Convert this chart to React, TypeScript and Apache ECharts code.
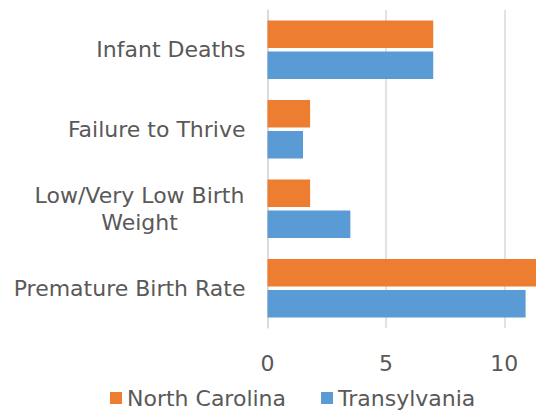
import React, { useEffect, useRef } from "react";
import * as echarts from "echarts";

const categories = ["Infant Deaths", "Failure to Thrive", "Low/Very Low Birth\nWeight", "Premature Birth Rate"];
const northCarolina = [7.0, 1.8, 1.8, 11.6];
const transylvania = [7.0, 1.5, 3.5, 10.9];
const xMin = 0;
const xMax = 11.34;
const xInterval = 5;

const FONT = "'DejaVu Sans', sans-serif";
const TEXT = "#595959";
const FS = 22;

export default function App() {
  const ref = useRef<HTMLDivElement>(null);
  useEffect(() => {
    document.body.style.margin = "0";
    if (!ref.current) return;
    const chart = echarts.init(ref.current, undefined, { renderer: "svg" });
    chart.setOption({
      animation: false,
      textStyle: { fontFamily: FONT },
      legend: {
        data: ["North Carolina", "Transylvania"],
        top: 382,
        left: 105,
        itemWidth: 12,
        itemHeight: 12,
        itemGap: 35,
        icon: "rect",
        textStyle: { fontSize: FS, color: TEXT, fontFamily: FONT },
      },
      grid: { left: 267.5, top: 10, right: 0, height: 318, containLabel: false },
      xAxis: {
        type: "value",
        min: xMin,
        max: xMax,
        interval: xInterval,
        axisLine: { show: false },
        axisTick: { show: false },
        splitLine: { showMaxLine: false, lineStyle: { color: "#d9d9d9", width: 1.5 } },
        axisLabel: { fontSize: FS, color: TEXT, margin: 24, fontFamily: FONT, showMaxLabel: false },
      },
      yAxis: {
        type: "category",
        inverse: true,
        data: categories,
        axisLine: { show: true, lineStyle: { color: "#d9d9d9", width: 1.5 } },
        axisTick: { show: false },
        axisLabel: {
          fontSize: FS,
          color: TEXT,
          margin: 22,
          fontFamily: FONT,
          align: "right",
          lineHeight: 27,
          formatter: (v: string) =>
            v.indexOf("\n") >= 0
              ? v
                  .split("\n")
                  .map((s) => "{c|" + s + "}")
                  .join("\n")
              : v,
          rich: {
            c: { width: 212, align: "center", fontSize: FS, color: TEXT, fontFamily: FONT, lineHeight: 27 },
          },
        },
      },
      series: [
        {
          name: "North Carolina",
          type: "bar",
          data: northCarolina,
          barWidth: 27.5,
          barGap: "12%",
          itemStyle: { color: "#ED7D31" },
        },
        {
          name: "Transylvania",
          type: "bar",
          data: transylvania,
          barWidth: 27.5,
          barGap: "12%",
          itemStyle: { color: "#5B9BD5" },
        },
      ],
    });
    return () => chart.dispose();
  }, []);
  return <div ref={ref} style={{ width: 536, height: 414 }} />;
}
